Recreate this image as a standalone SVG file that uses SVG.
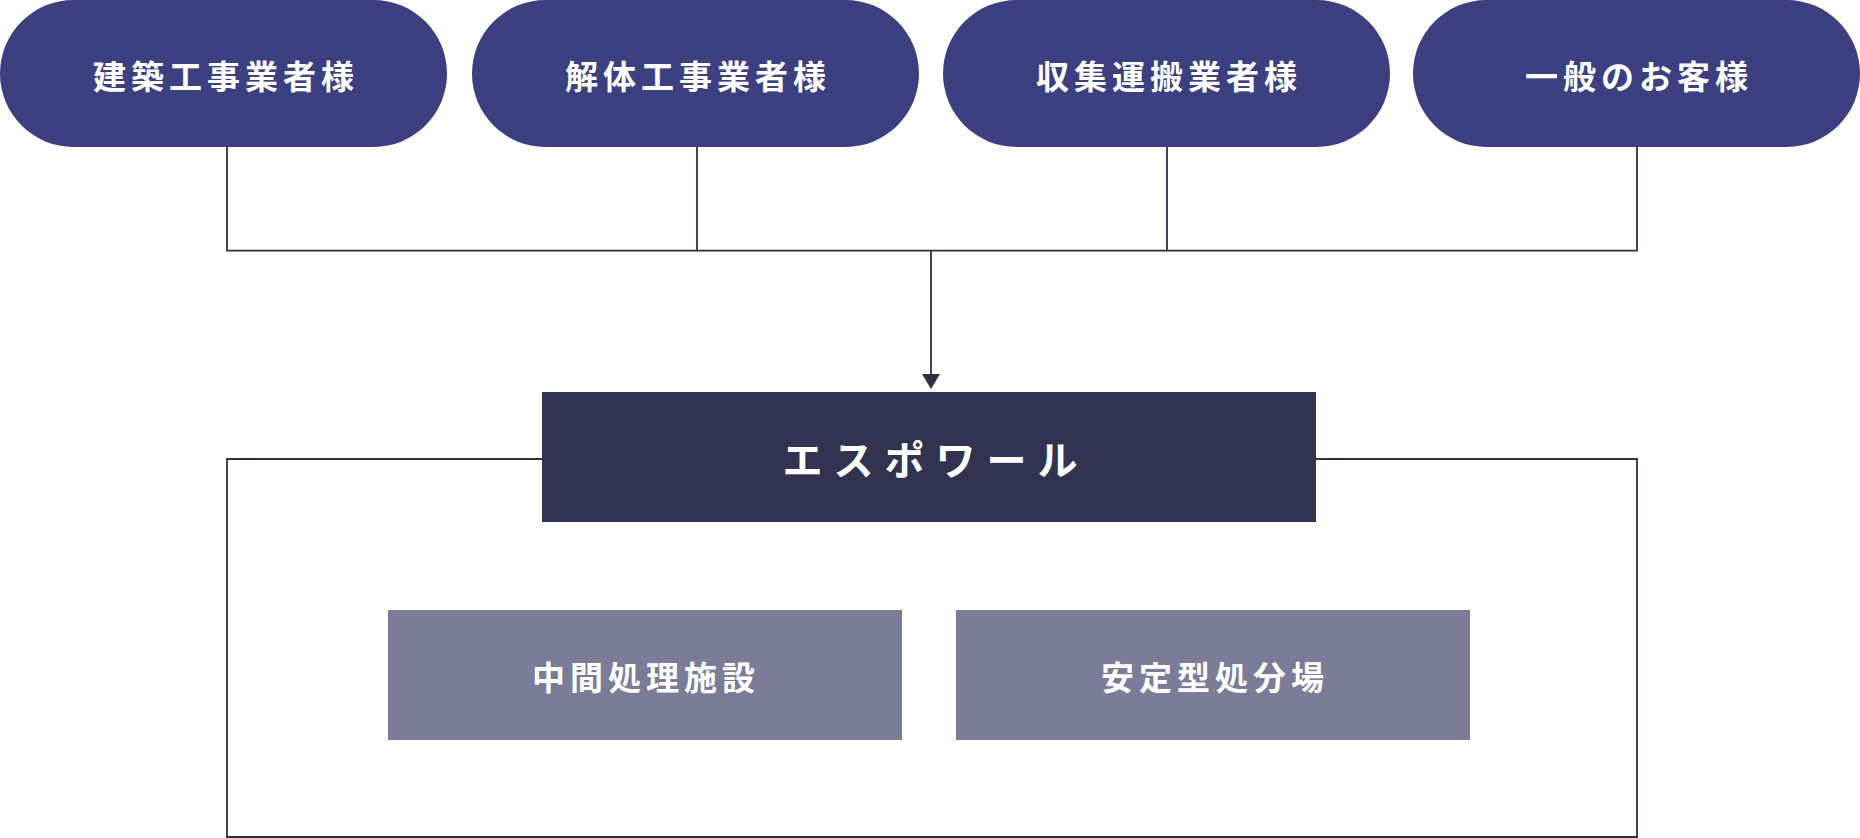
<svg xmlns="http://www.w3.org/2000/svg" width="1860" height="838" viewBox="0 0 1860 838">
<style>
.pill{fill:#3c4080}
.main{fill:#323350}
.sub{fill:#7b7c97}
.line{fill:none;stroke:#2f2f45;stroke-width:1.8}
.head{fill:#2f2f45}
text{fill:#ffffff;font-family:"Noto Sans CJK JP","Noto Sans",sans-serif;font-weight:700;text-anchor:middle;dominant-baseline:central}
.t1{font-size:33px;letter-spacing:5px}
.t2{font-size:40px;letter-spacing:11px}
.t3{font-size:33px;letter-spacing:5px}
</style>
<rect width="1860" height="838" fill="#ffffff"/>
<g id="connectors">
<path class="line" d="M227,147 V250.7 H1637 V147"/>
<path class="line" d="M697,147 V250.7"/>
<path class="line" d="M1167,147 V250.7"/>
<path class="line" d="M931,250.7 V376"/>
<path class="head" d="M922,374 L940,374 L931,389 Z"/>
<path class="line" d="M542,459 H227 V837 H1637 V459 H1316"/>
</g>
<g id="node-kenchiku">
<rect class="pill" x="0" y="0" width="447" height="147" rx="73.5"/>
<text class="t1" x="226" y="74.5">建築工事業者様</text>
</g>
<g id="node-kaitai">
<rect class="pill" x="472" y="0" width="447" height="147" rx="73.5"/>
<text class="t1" x="698" y="74.5">解体工事業者様</text>
</g>
<g id="node-shushu">
<rect class="pill" x="943" y="0" width="447" height="147" rx="73.5"/>
<text class="t1" x="1169" y="74.5">収集運搬業者様</text>
</g>
<g id="node-ippan">
<rect class="pill" x="1413" y="0" width="447" height="147" rx="73.5"/>
<text class="t1" x="1639" y="74.5">一般のお客様</text>
</g>
<g id="node-espoir">
<rect class="main" x="542" y="392" width="774" height="130"/>
<text class="t2" x="935.5" y="458">エスポワール</text>
</g>
<g id="node-chukan">
<rect class="sub" x="388" y="610" width="514" height="130"/>
<text class="t3" x="646" y="676">中間処理施設</text>
</g>
<g id="node-antei">
<rect class="sub" x="956" y="610" width="514" height="130"/>
<text class="t3" x="1215" y="676">安定型処分場</text>
</g>
</svg>
